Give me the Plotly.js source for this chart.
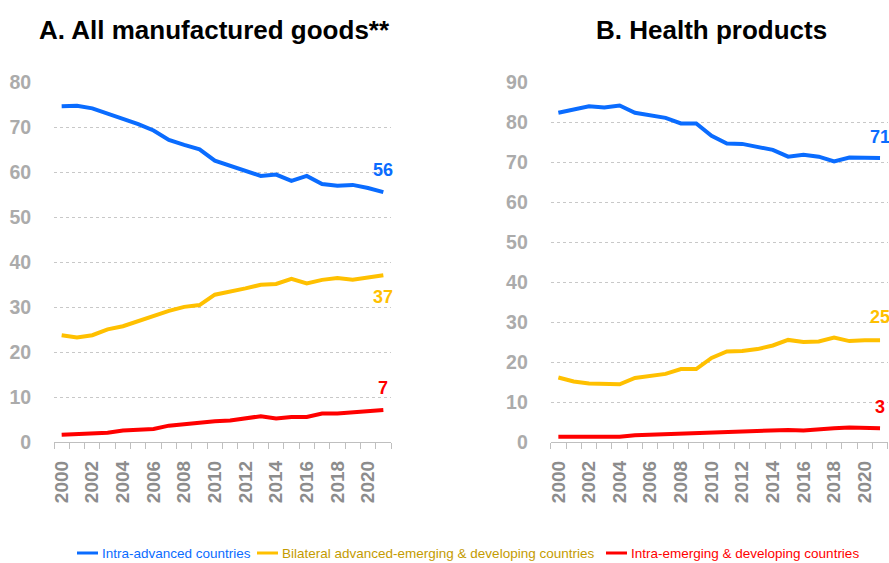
<!DOCTYPE html>
<html><head><meta charset="utf-8">
<script src="https://cdn.plot.ly/plotly-3.0.1.min.js"></script>
<style>html,body{margin:0;padding:0;background:#fff}#chart{width:889px;height:563px}</style>
</head><body><div id="chart"></div><script>
const years = [2000,2001,2002,2003,2004,2005,2006,2007,2008,2009,2010,2011,2012,2013,2014,2015,2016,2017,2018,2019,2020,2021];
const seriesNames = ["Intra-advanced countries","Bilateral advanced-emerging & developing countries","Intra-emerging & developing countries"];
const panelTitles = ["A. All manufactured goods**","B. Health products"];
// Panel A: all manufactured goods
const mfgIntraAdvanced = [74.7,74.8,74.2,73.1,72.0,70.7,69.3,67.2,66.1,65.1,62.6,61.5,60.3,59.2,59.5,58.1,59.2,57.4,57.0,57.2,56.5,55.6];
const mfgBilateral     = [23.8,23.3,23.8,25.1,25.8,26.9,28.2,29.2,30.1,30.5,32.8,33.4,34.2,35.0,35.2,36.3,35.3,36.1,36.5,36.1,36.7,37.1];
const mfgIntraEmerging = [1.7,1.8,1.9,2.1,2.6,2.7,2.95,3.7,4.1,4.4,4.7,4.85,5.3,5.8,5.3,5.6,5.65,6.4,6.4,6.7,6.8,7.2];
const mfgEndLabels = ["56","37","7"];
// Panel B: health products
const healthIntraAdvanced = [82.4,83.2,84.0,83.7,84.2,82.4,81.7,81.1,79.7,79.7,76.6,74.7,74.6,73.8,73.1,71.4,71.9,71.4,70.2,71.2,71.1,71.1];
const healthBilateral     = [16.2,15.2,14.7,14.7,14.5,16.1,16.5,17.1,18.3,18.3,21.1,22.7,22.8,23.3,24.2,25.6,25.1,25.2,26.2,25.3,25.5,25.5];
const healthIntraEmerging = [1.4,1.4,1.4,1.4,1.4,1.75,1.9,2.0,2.15,2.15,2.5,2.7,2.8,2.95,2.95,3.1,2.95,3.3,3.5,3.7,3.5,3.5];
const healthEndLabels = ["71","25","3"];

const lineColors = ["#0A6CFF","#FFC000","#FF0000"];
const legendTextColors = ["#0A6CFF","#C49B00","#FF0000"];
const SANS = '"Liberation Sans",Arial,sans-serif';

const panels = [
  {series:[mfgIntraAdvanced,mfgBilateral,mfgIntraEmerging], labels:mfgEndLabels, xa:'x', ya:'y', shifts:[22,-22,22]},
  {series:[healthIntraAdvanced,healthBilateral,healthIntraEmerging], labels:healthEndLabels, xa:'x2', ya:'y2', shifts:[21,23,21]}
];

const traces = [];
const annotations = [];
const shapes = [];
panels.forEach((p, pi) => {
  p.series.forEach((vals, si) => {
    traces.push({
      x: years, y: vals, xaxis: p.xa, yaxis: p.ya, type: 'scatter', mode: 'lines',
      line: {color: lineColors[si], width: 4},
      name: seriesNames[si], showlegend: false, hoverinfo: 'skip'
    });
    annotations.push({
      xref: p.xa, yref: p.ya, x: years[years.length-1], y: vals[vals.length-1],
      text: '<b>' + p.labels[si] + '</b>', showarrow: false, yshift: p.shifts[si],
      font: {family: SANS, size: 18, color: lineColors[si]}
    });
  });
});

// custom legend (line sample + coloured text)
const legendLineX = [77, 257, 606];
const legendY = 1 - 553/563;
seriesNames.forEach((n, si) => {
  shapes.push({type:'line', xref:'paper', yref:'paper', x0: legendLineX[si]/889, x1: (legendLineX[si]+21)/889,
    y0: legendY, y1: legendY, line:{color: lineColors[si], width: 3}});
  annotations.push({xref:'paper', yref:'paper', x:(legendLineX[si]+23)/889, y:legendY, xanchor:'left', yanchor:'middle',
    text: n, showarrow:false, font:{family:SANS, size:13.5, color: legendTextColors[si]}});
});

const titleX = [214/889, 711.5/889];
panelTitles.forEach((t, i) => {
  annotations.push({xref:'paper', yref:'paper', x:titleX[i], y:1-30/563, text:'<b>'+t+'</b>', showarrow:false,
    xanchor:'center', yanchor:'middle', font:{family:SANS, size:26, color:'#000'}});
});

const evenYears = years.filter(y => y % 2 === 0);
const boundaries = years.map(y => y - 0.5).concat([years[years.length-1] + 0.5]);

function xAxis(domain, anchor) {
  return {domain: domain, anchor: anchor, range: [years[0]-0.5, years[years.length-1]+0.5],
    tickmode: 'array', tickvals: evenYears, ticktext: evenYears.map(String), tickangle: -90,
    ticks: 'outside', ticklen: 10, tickcolor: 'rgba(0,0,0,0)',
    showline: true, linecolor: '#BFBFBF', linewidth: 1, showgrid: false, zeroline: false,
    tickfont: {family: SANS, size: 19, color: '#8C8C8C', weight: 'bold'},
    minor: {tickmode: 'array', tickvals: boundaries, ticks: 'outside', ticklen: 6, tickcolor: '#BFBFBF', tickwidth: 1, showgrid: false},
    fixedrange: true};
}
function yAxis(domain, anchor, maxV) {
  return {domain: domain, anchor: anchor, range: [0, maxV], tickmode: 'linear', tick0: 0, dtick: 10,
    showgrid: true, gridcolor: '#C8C8C8', gridwidth: 1, griddash: 'dot', zeroline: false, showline: false,
    ticks: 'outside', ticklen: 18, tickcolor: 'rgba(0,0,0,0)',
    tickfont: {family: SANS, size: 19.5, color: '#ABABAB', weight: 'bold'}, fixedrange: true};
}
const yDom = [1-442.3/563, 1-82.3/563];
const layout = {
  width: 889, height: 563, margin: {l:0, r:0, t:0, b:0},
  paper_bgcolor: '#fff', plot_bgcolor: '#fff',
  xaxis: xAxis([54/889, 391/889], 'y'),
  yaxis: yAxis(yDom, 'x', 80),
  xaxis2: xAxis([550.7/889, 887.7/889], 'y2'),
  yaxis2: yAxis(yDom, 'x2', 90),
  showlegend: false,
  annotations: annotations,
  shapes: shapes
};
Plotly.newPlot('chart', traces, layout, {displayModeBar: false, staticPlot: true});
</script></body></html>
